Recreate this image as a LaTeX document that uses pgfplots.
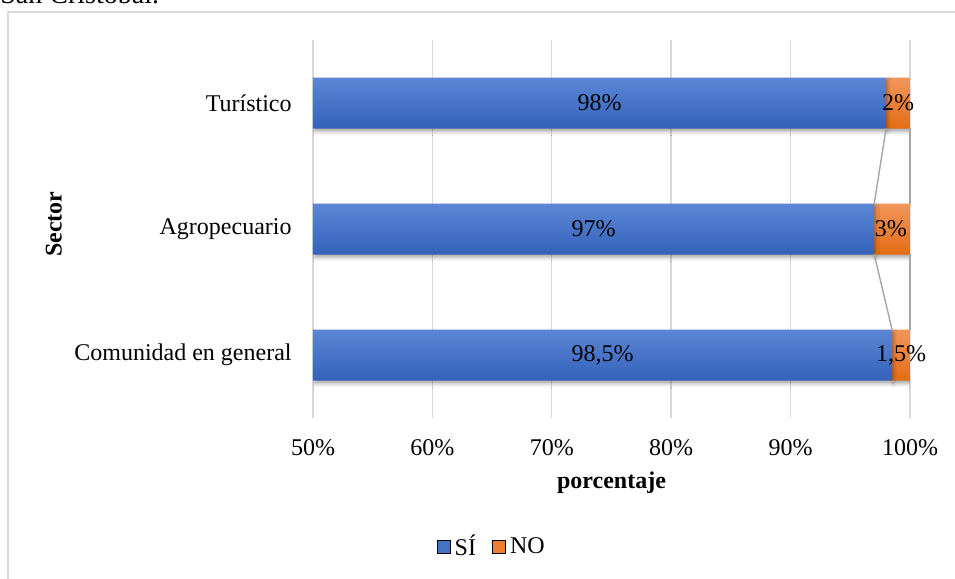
\documentclass[border=0pt]{standalone}
\usepackage{fontspec}
\setmainfont{Liberation Serif}
\usepackage{pgfplots}
\pgfplotsset{compat=1.18}
\usetikzlibrary{shadows.blur}

\definecolor{siblue}{HTML}{4472C4}
\definecolor{sitop}{HTML}{5B87D5}
\definecolor{sibot}{HTML}{3462B9}
\definecolor{noorange}{HTML}{ED7D31}
\definecolor{notop}{HTML}{F2965C}
\definecolor{nobot}{HTML}{E46C13}
\definecolor{gridgray}{HTML}{D9D9D9}
\definecolor{linegray}{HTML}{A5A5A5}

% one light-to-dark run for each of the three bars of a series
\pgfdeclareverticalshading{sishade}{100bp}{color(0bp)=(sibot); color(25bp)=(sibot);
  color(33.42bp)=(sitop); color(45.79bp)=(sibot); color(54.21bp)=(sitop);
  color(66.58bp)=(sibot); color(75bp)=(sitop); color(100bp)=(sitop)}
\pgfdeclareverticalshading{noshade}{100bp}{color(0bp)=(nobot); color(25bp)=(nobot);
  color(33.42bp)=(notop); color(45.79bp)=(nobot); color(54.21bp)=(notop);
  color(66.58bp)=(nobot); color(75bp)=(notop); color(100bp)=(notop)}

\newcommand{\fs}{\fontsize{12}{14}\selectfont}

\begin{document}
\begin{tikzpicture}
% 1 px of the reference = 0.5pt
\useasboundingbox (0pt,0pt) rectangle (477.5pt,-289.5pt);
\node[anchor=base west, font=\fontsize{14}{16}\selectfont, inner sep=0pt] at (0pt,-1.6pt) {San Cristóbal.};
\draw[gridgray, line width=0.8pt] (4pt,-6pt) rectangle (495pt,-300pt);

\begin{axis}[
    at={(156.5pt,-209pt)}, anchor=south west,
    scale only axis, width=298.5pt, height=189pt,
    xbar stacked, bar width=25.5pt,
    xmin=50, xmax=100, ymin=-0.5, ymax=2.5,
    xtick={50,60,70,80,90,100},
    xticklabels={50\%,60\%,70\%,80\%,90\%,100\%},
    ytick={0,1,2},
    yticklabels={Comunidad en general,Agropecuario,Turístico},
    axis line style={draw=none},
    major tick length=0pt,
    xmajorgrids, grid style={gridgray, line width=0.7pt},
    tick label style={font=\fs},
    xticklabel style={anchor=center, yshift=-15pt},
    yticklabel style={anchor=east, inner sep=0pt, xshift=-10.5pt},
    xlabel={\textbf{porcentaje}},
    xlabel style={at={(axis description cs:0.5,-0.172)}, anchor=center, font=\fs},
    ylabel={\textbf{Sector}},
    ylabel style={at={(axis description cs:-0.434,0.513)}, anchor=center, font=\fs},
]
\addplot[draw=none, shade, shading=sishade,
    blur shadow={shadow xshift=0.6pt, shadow yshift=-1.6pt, shadow opacity=35, shadow blur steps=4}]
    coordinates {(98.5,0) (97,1) (98,2)};
\addplot[draw=none, shade, shading=noshade,
    blur shadow={shadow xshift=0.6pt, shadow yshift=-1.6pt, shadow opacity=35, shadow blur steps=4}]
    coordinates {(1.5,0) (3,1) (2,2)};
\end{axis}

\begin{axis}[
    at={(156.5pt,-209pt)}, anchor=south west,
    scale only axis, width=298.5pt, height=189pt,
    xmin=50, xmax=100, ymin=-0.5, ymax=2.5,
    hide axis, clip=false,
    legend columns=-1,
    legend style={at={(0.301,-0.341)}, anchor=center, draw=none, fill=none,
        font=\fs, inner sep=0pt,
        /tikz/every even column/.append style={column sep=6pt},
        nodes={inner sep=2pt}},
    legend image code/.code={\fill[#1] (0pt,-3.2pt) rectangle (6.6pt,3.2pt);},
]
% series lines
\addplot[linegray, line width=0.7pt, forget plot] coordinates {(98,1.8) (97,1.2)};
\addplot[linegray, line width=0.7pt, forget plot] coordinates {(97,0.8) (98.5,0.2)};
\addplot[linegray, line width=0.7pt, forget plot] coordinates {(100,1.8) (100,1.2)};
\addplot[linegray, line width=0.7pt, forget plot] coordinates {(100,0.8) (100,0.2)};
% value labels
\addplot[draw=none, mark=none, forget plot, nodes near coords,
    point meta=explicit symbolic,
    every node near coord/.append style={anchor=center, font=\fs, inner sep=0pt}]
    coordinates {(74.25,0)[98,5\%] (73.5,1)[97\%] (74,2)[98\%]};
\addplot[draw=none, mark=none, forget plot, nodes near coords,
    point meta=explicit symbolic,
    every node near coord/.append style={anchor=center, font=\fs, inner sep=0pt}]
    coordinates {(99.25,0)[1,5\%] (98.4,1)[3\%] (99,2)[2\%]};
\addlegendimage{fill=siblue}
\addlegendentry{SÍ}
\addlegendimage{fill=noorange}
\addlegendentry{NO}
\end{axis}
\end{tikzpicture}
\end{document}
